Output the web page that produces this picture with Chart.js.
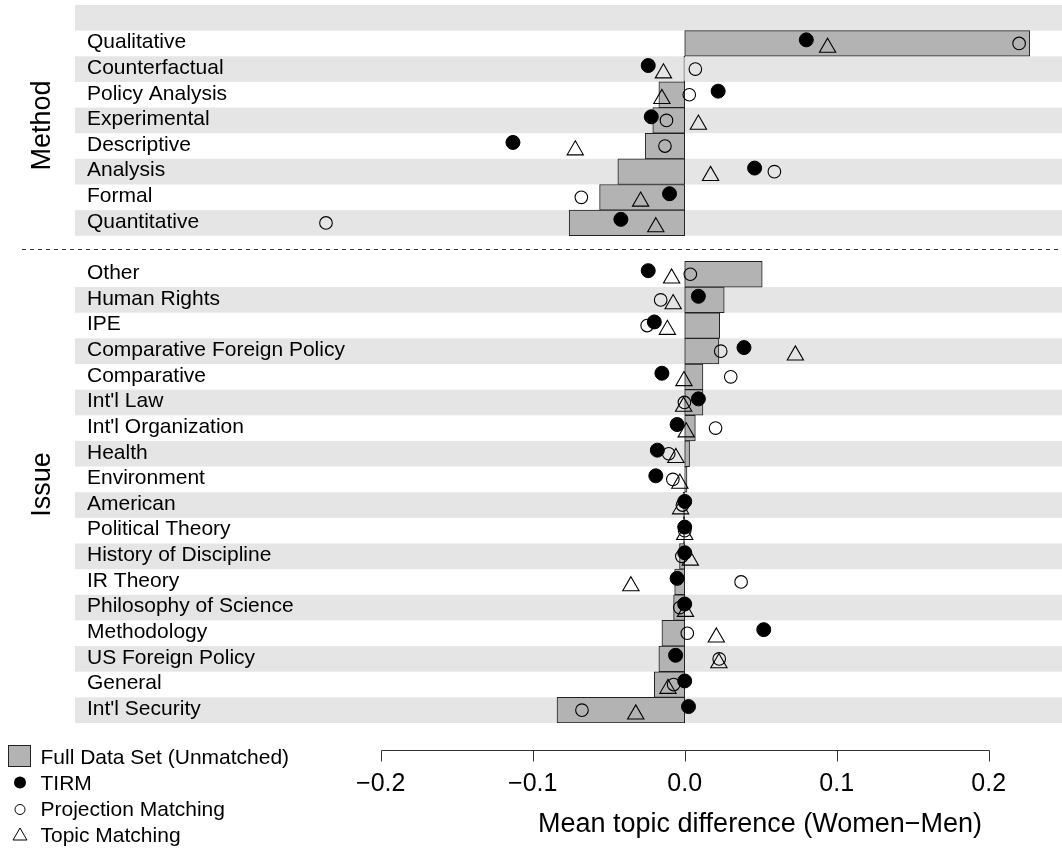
<!DOCTYPE html>
<html>
<head>
<meta charset="utf-8">
<title>Mean topic difference (Women−Men)</title>
<script src="https://cdn.jsdelivr.net/npm/chart.js@4.4.1/dist/chart.umd.min.js"></script>
<style>
  html, body { margin: 0; padding: 0; background: #ffffff; }
  #wrap { width: 1062px; height: 850px; }
  canvas { display: block; }
</style>
</head>
<body>
<div id="wrap"><canvas id="chart" width="1062" height="850"></canvas></div>
<script>
// ---- Data -------------------------------------------------------------
const methodLabels = ['Qualitative', 'Counterfactual', 'Policy Analysis', 'Experimental',
  'Descriptive', 'Analysis', 'Formal', 'Quantitative'];
const methodFull  = [0.227, -0.0005, -0.017, -0.021, -0.026, -0.044, -0.056, -0.076];
const methodTirm  = [0.080, -0.024, 0.022, -0.022, -0.113, 0.046, -0.010, -0.042];
const methodProj  = [0.220, 0.007, 0.003, -0.012, -0.013, 0.059, -0.068, -0.236];
const methodTopic = [0.094, -0.014, -0.015, 0.009, -0.072, 0.017, -0.029, -0.019];

const issueLabels = ['Other', 'Human Rights', 'IPE', 'Comparative Foreign Policy', 'Comparative',
  "Int'l Law", "Int'l Organization", 'Health', 'Environment', 'American', 'Political Theory',
  'History of Discipline', 'IR Theory', 'Philosophy of Science', 'Methodology',
  'US Foreign Policy', 'General', "Int'l Security"];
const issueFull  = [0.051, 0.026, 0.023, 0.0225, 0.012, 0.012, 0.007, 0.0032, 0.0015, -0.001,
  -0.001, -0.0034, -0.0066, -0.0073, -0.015, -0.017, -0.020, -0.084];
const issueTirm  = [-0.024, 0.009, -0.020, 0.039, -0.015, 0.009, -0.005, -0.018, -0.019, 0.000,
  0.000, 0.000, -0.005, 0.000, 0.052, -0.006, 0.000, 0.0025];
const issueProj  = [0.0037, -0.0158, -0.0247, 0.0237, 0.0303, -0.0002, 0.0203, -0.0105, -0.0078,
  -0.0015, 0.000, -0.0019, 0.0371, -0.0032, 0.0017, 0.0227, -0.0073, -0.0676];
const issueTopic = [-0.0086, -0.0076, -0.0114, 0.0728, -0.0005, -0.0007, 0.001, -0.0058, -0.0032,
  -0.0027, 0.000, 0.0037, -0.0354, 0.0005, 0.0208, 0.0225, -0.011, -0.0322];

const groupNames = ['Method', 'Issue'];
const xTicks = [-0.2, -0.1, 0.0, 0.1, 0.2];
const xTitle = 'Mean topic difference (Women\u2212Men)';
const seriesNames = ['Full Data Set (Unmatched)', 'TIRM', 'Projection Matching', 'Topic Matching'];

// ---- Row layout: spacer, method rows, spacer, issue rows ---------------
const METHOD_START = 1;
const ISSUE_START = METHOD_START + methodLabels.length + 1;
const ROW_COUNT = ISSUE_START + issueLabels.length;
const GAP_ROW = ISSUE_START - 1;

// vertical dodge of the matched estimates within a row
const TIRM_SHIFT = -0.14;
const PROJ_SHIFT = 0;
const TOPIC_SHIFT = 0.16;

const FONT = '"Liberation Sans", Arial, Helvetica, sans-serif';
const BAR_FILL = '#b3b3b3';
const STRIPE = '#e5e5e5';

function points(mVals, iVals, shift) {
  const out = [];
  mVals.forEach((v, i) => out.push({ x: v, y: METHOD_START + i + shift }));
  iVals.forEach((v, i) => out.push({ x: v, y: ISSUE_START + i + shift }));
  return out;
}

const rowLabels = [];
methodLabels.forEach((l, i) => rowLabels.push({ row: METHOD_START + i, text: l, shade: i % 2 === 1 }));
issueLabels.forEach((l, i) => rowLabels.push({ row: ISSUE_START + i, text: l, shade: i % 2 === 1 }));
const shadedRows = [0].concat(rowLabels.filter(r => r.shade).map(r => r.row));

// ---- Drawing helpers ---------------------------------------------------
const panelPlugin = {
  id: 'panel',
  beforeDatasetsDraw(chart) {
    const { ctx, chartArea } = chart;
    const ys = chart.scales.y;
    ctx.save();
    // alternating row bands
    ctx.fillStyle = STRIPE;
    shadedRows.forEach(r => {
      const top = ys.getPixelForValue(r - 0.5);
      const bot = ys.getPixelForValue(r + 0.5);
      ctx.fillRect(chartArea.left, top, chart.width - chartArea.left, bot - top);
    });
    // row labels
    ctx.fillStyle = '#000';
    ctx.font = '21px ' + FONT;
    ctx.textAlign = 'left';
    ctx.textBaseline = 'middle';
    rowLabels.forEach(r => {
      ctx.fillText(r.text, chartArea.left + 12, ys.getPixelForValue(r.row) - 1);
    });
    // separator between the two groups
    const yg = Math.round(ys.getPixelForValue(GAP_ROW)) + 0.5;
    ctx.strokeStyle = '#333';
    ctx.lineWidth = 1;
    ctx.setLineDash([4, 4]);
    ctx.beginPath();
    ctx.moveTo(22, yg);
    ctx.lineTo(chart.width, yg);
    ctx.stroke();
    ctx.restore();
  },
  afterDraw(chart) {
    const { ctx } = chart;
    const xs = chart.scales.x;
    const ys = chart.scales.y;
    ctx.save();
    // x axis line with tick marks
    ctx.strokeStyle = '#333';
    ctx.lineWidth = 1;
    const axisY = 750.5;
    ctx.beginPath();
    ctx.moveTo(Math.round(xs.getPixelForValue(xTicks[0])) + 0.5, axisY);
    ctx.lineTo(Math.round(xs.getPixelForValue(xTicks[xTicks.length - 1])) + 0.5, axisY);
    xTicks.forEach(t => {
      const px = Math.round(xs.getPixelForValue(t)) + 0.5;
      ctx.moveTo(px, axisY);
      ctx.lineTo(px, axisY + 11);
    });
    ctx.stroke();

    // axis title
    ctx.fillStyle = '#000';
    ctx.font = '27px ' + FONT;
    ctx.textAlign = 'center';
    ctx.textBaseline = 'alphabetic';
    ctx.fillText(xTitle, 760, 831.5);

    // group labels
    const groupRows = [4.2, 18.2];
    groupNames.forEach((g, i) => {
      ctx.save();
      ctx.translate(50, ys.getPixelForValue(groupRows[i]));
      ctx.rotate(-Math.PI / 2);
      ctx.fillText(g, 0, 0);
      ctx.restore();
    });

    // legend
    ctx.font = '21px ' + FONT;
    ctx.textAlign = 'left';
    ctx.textBaseline = 'alphabetic';
    const baselines = [764, 790, 816, 842];
    seriesNames.forEach((s, i) => ctx.fillText(s, 40.5, baselines[i]));
    ctx.fillStyle = BAR_FILL;
    ctx.fillRect(8.5, 745.5, 22, 21);
    ctx.strokeStyle = '#222';
    ctx.strokeRect(8.5, 745.5, 22, 21);
    ctx.strokeStyle = '#000';
    ctx.fillStyle = '#000';
    ctx.beginPath();
    ctx.arc(20, 782.5, 6, 0, Math.PI * 2);
    ctx.fill();
    ctx.beginPath();
    ctx.arc(20, 809.5, 5, 0, Math.PI * 2);
    ctx.stroke();
    const r = 8;
    const cy = 836;
    ctx.beginPath();
    ctx.moveTo(20, cy - r);
    ctx.lineTo(20 + r * 0.866, cy + r / 2);
    ctx.lineTo(20 - r * 0.866, cy + r / 2);
    ctx.closePath();
    ctx.stroke();
    ctx.restore();
  }
};

// ---- Chart -------------------------------------------------------------
const X_MIN = -0.40112;
const X_MAX = 0.24822;

new Chart(document.getElementById('chart'), {
  type: 'bar',
  data: {
    datasets: [
      {
        type: 'bar',
        label: seriesNames[0],
        indexAxis: 'y',
        xAxisID: 'x',
        yAxisID: 'y',
        data: points(methodFull, issueFull, 0),
        backgroundColor: BAR_FILL,
        borderColor: '#222',
        borderWidth: 1,
        borderSkipped: false,
        categoryPercentage: 1,
        barPercentage: 1,
        grouped: false,
        order: 4
      },
      {
        type: 'scatter',
        label: seriesNames[3],
        xAxisID: 'x',
        yAxisID: 'y',
        data: points(methodTopic, issueTopic, TOPIC_SHIFT),
        pointStyle: 'triangle',
        pointRadius: 9.4,
        pointBackgroundColor: 'rgba(0,0,0,0)',
        pointBorderColor: '#000',
        pointBorderWidth: 1.1,
        order: 3
      },
      {
        type: 'scatter',
        label: seriesNames[2],
        xAxisID: 'x',
        yAxisID: 'y',
        data: points(methodProj, issueProj, PROJ_SHIFT),
        pointStyle: 'circle',
        pointRadius: 6.3,
        pointBackgroundColor: 'rgba(0,0,0,0)',
        pointBorderColor: '#000',
        pointBorderWidth: 1.1,
        order: 2
      },
      {
        type: 'scatter',
        label: seriesNames[1],
        xAxisID: 'x',
        yAxisID: 'y',
        data: points(methodTirm, issueTirm, TIRM_SHIFT),
        pointStyle: 'circle',
        pointRadius: 7,
        pointBackgroundColor: '#000',
        pointBorderColor: '#000',
        pointBorderWidth: 1,
        order: 1
      }
    ]
  },
  options: {
    responsive: false,
    maintainAspectRatio: false,
    devicePixelRatio: 1,
    animation: false,
    events: [],
    layout: { autoPadding: false, padding: { left: 75, right: 0, top: 5, bottom: 13 } },
    plugins: {
      legend: { display: false },
      tooltip: { enabled: false },
      title: { display: false }
    },
    scales: {
      x: {
        type: 'linear',
        position: 'bottom',
        offset: false,
        bounds: 'data',
        min: X_MIN,
        max: X_MAX,
        grid: { display: false, offset: false },
        border: { display: false },
        afterBuildTicks: (scale) => { scale.ticks = xTicks.map(v => ({ value: v })); },
        ticks: {
          autoSkip: false,
          maxRotation: 0,
          padding: 38,
          color: '#000',
          font: { family: FONT, size: 25 },
          callback: (v) => Number(v).toFixed(1).replace('-', '\u2212')
        }
      },
      y: {
        type: 'linear',
        display: false,
        reverse: true,
        offset: false,
        bounds: 'data',
        min: -0.5,
        max: ROW_COUNT - 0.5,
        grid: { offset: false },
        afterBuildTicks: (scale) => {
          const t = [];
          for (let i = 0; i < ROW_COUNT; i++) t.push({ value: i });
          scale.ticks = t;
        }
      }
    }
  },
  plugins: [panelPlugin]
});
</script>
</body>
</html>
